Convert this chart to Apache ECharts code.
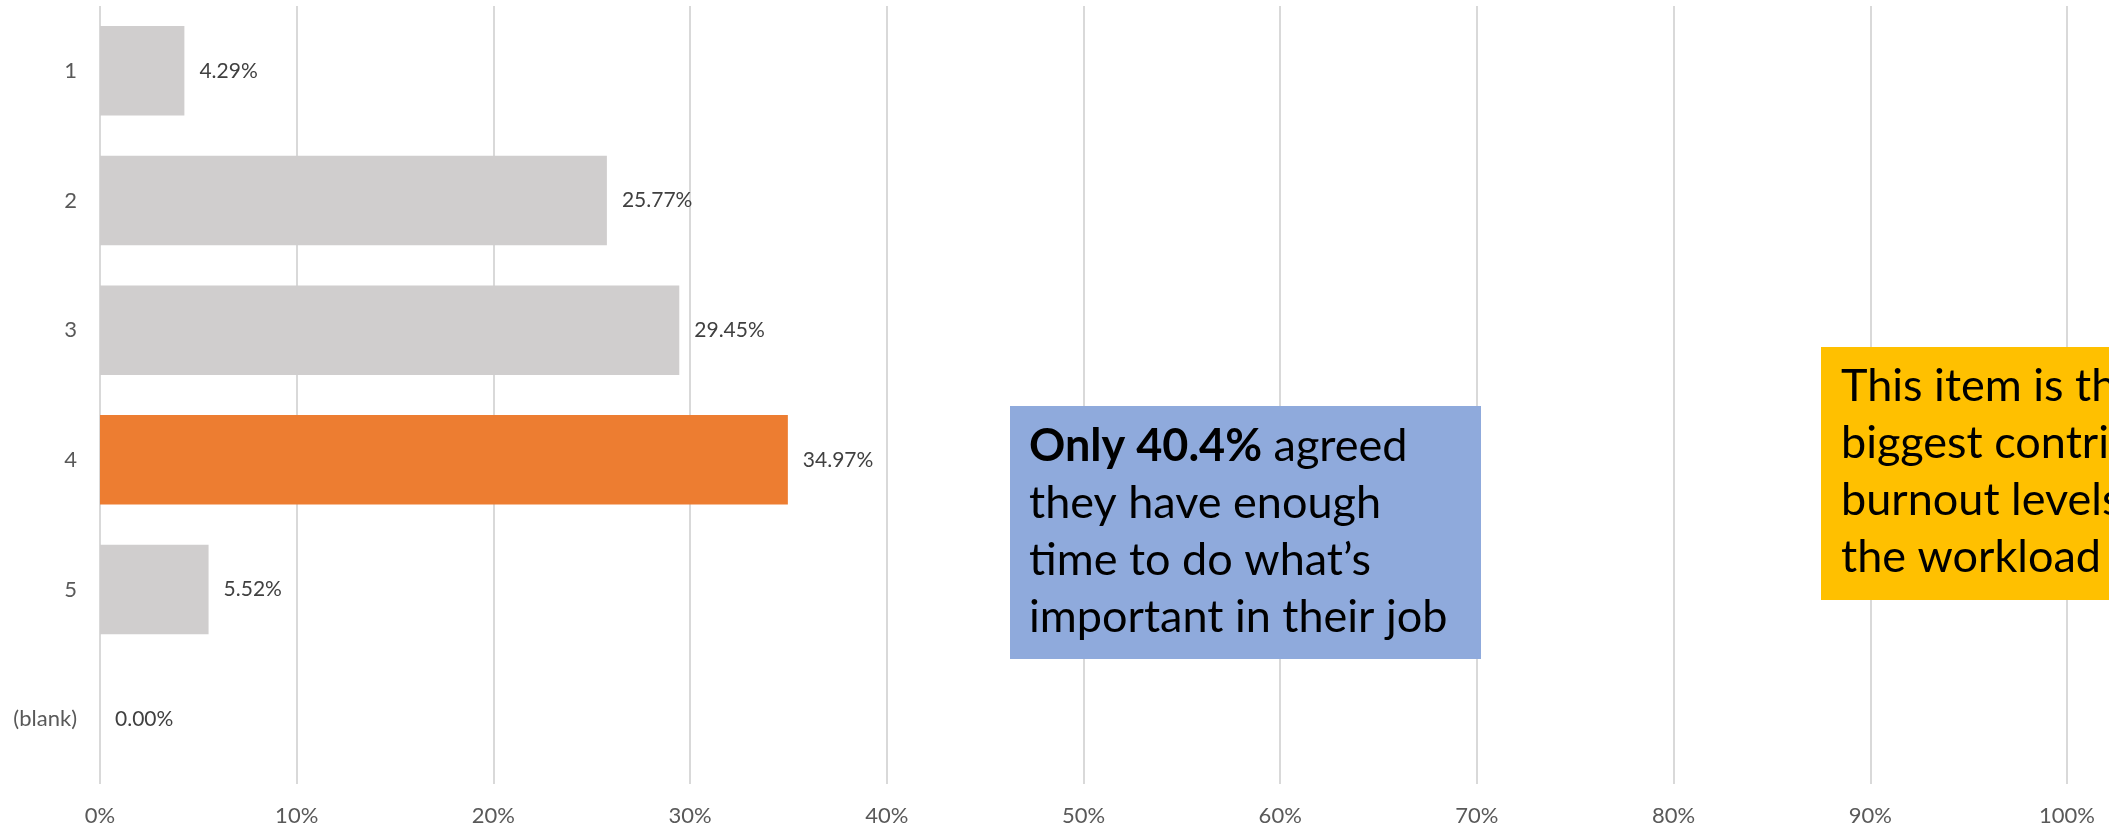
<!DOCTYPE html>
<html>
<head>
<meta charset="utf-8">
<title>Enough time to do what's important</title>
<script src="https://cdn.jsdelivr.net/npm/echarts@6/dist/echarts.min.js"></script>
<style>
  html, body { margin: 0; padding: 0; background: #ffffff; }
  #chart { width: 2109px; height: 831px; }
</style>
</head>
<body>
<div id="chart"></div>
<script>
// Response categories (top to bottom) and share of respondents, in percent
const categories = ['1', '2', '3', '4', '5', '(blank)'];
const shares = [4.29, 25.77, 29.45, 34.97, 5.52, 0.00];
// Category drawn in the accent colour
const highlighted = '4';
// Value axis tick settings (percent)
const axisMin = 0;
const axisMax = 100;
const axisStep = 10;

const FONT = 'Lato, "Open Sans", sans-serif';
const GREY_BAR = '#D0CECE';
const ORANGE = '#ED7D31';

const chart = echarts.init(document.getElementById('chart'), null, { renderer: 'canvas' });

const barData = categories.map((c, i) => ({
  value: shares[i],
  itemStyle: { color: c === highlighted ? ORANGE : GREY_BAR }
}));

const option = {
  backgroundColor: '#ffffff',
  animation: false,
  grid: { left: 100, right: 42, top: 6, bottom: 47, containLabel: false },
  xAxis: {
    type: 'value',
    min: axisMin,
    max: axisMax,
    interval: axisStep,
    axisLine: { show: false },
    axisTick: { show: false },
    splitLine: { show: true, lineStyle: { color: '#D9D9D9', width: 2 } },
    axisLabel: {
      formatter: v => v + '%',
      color: '#595959',
      fontFamily: FONT,
      fontSize: 22,
      margin: 21
    }
  },
  yAxis: {
    type: 'category',
    data: categories,
    inverse: true,
    axisLine: { show: false },
    axisTick: { show: false },
    splitLine: { show: false },
    axisLabel: {
      color: '#595959',
      fontFamily: FONT,
      fontSize: 22,
      margin: 23
    }
  },
  series: [{
    type: 'bar',
    data: barData,
    barCategoryGap: '31%',
    label: {
      show: true,
      position: 'right',
      distance: 15,
      formatter: p => p.value.toFixed(2) + '%',
      color: '#404040',
      fontFamily: FONT,
      fontSize: 21
    }
  }],
  graphic: [
    {
      type: 'rect',
      z: 100,
      shape: { x: 1010, y: 406, width: 471, height: 253 },
      style: { fill: '#8FAADC' }
    },
    {
      type: 'text',
      z: 101,
      x: 1029,
      y: 418,
      style: {
        text: '{b|Only 40.4%} agreed\nthey have enough\ntime to do what\u2019s\nimportant in their job',
        fill: '#000000',
        font: '45px ' + FONT,
        lineHeight: 57,
        verticalAlign: 'top',
        rich: {
          b: { fontWeight: 'bold', fontSize: 45, fontFamily: FONT, lineHeight: 57, fill: '#000000' }
        }
      }
    },
    {
      type: 'rect',
      z: 100,
      shape: { x: 1821, y: 347, width: 400, height: 253 },
      style: { fill: '#FFC000' }
    },
    {
      type: 'text',
      z: 101,
      x: 1841,
      y: 358,
      style: {
        text: 'This item is the\nbiggest contributor to\nburnout levels, as is\nthe workload',
        fill: '#000000',
        font: '45px ' + FONT,
        lineHeight: 57,
        verticalAlign: 'top'
      }
    }
  ]
};

chart.setOption(option);
</script>
</body>
</html>
